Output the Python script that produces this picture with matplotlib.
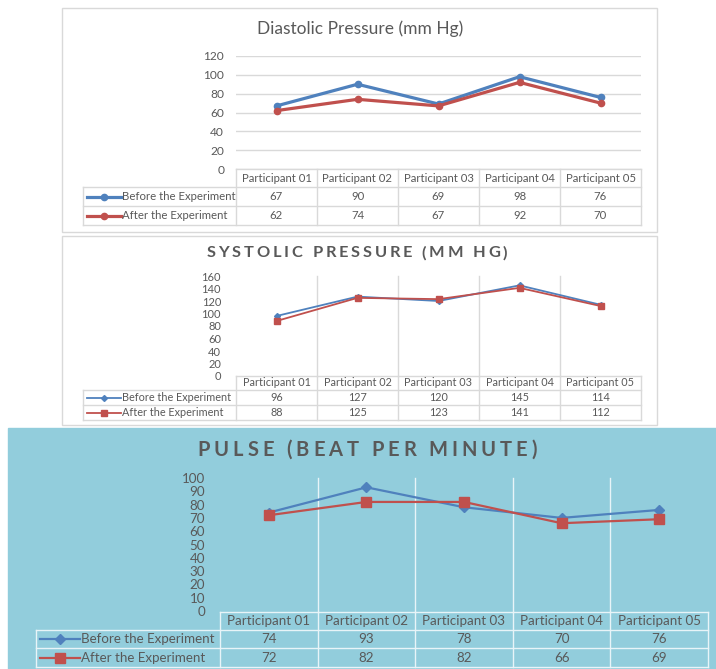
import matplotlib.pyplot as plt
from matplotlib.patches import Rectangle
from matplotlib.lines import Line2D
from matplotlib.font_manager import FontProperties

plt.rcParams['font.family'] = ['Lato', 'DejaVu Sans']

W, H = 716, 669

categories = ["Participant 01", "Participant 02", "Participant 03",
              "Participant 04", "Participant 05"]
series_names = ["Before the Experiment", "After the Experiment"]

dia_before = [67, 90, 69, 98, 76]
dia_after = [62, 74, 67, 92, 70]
sys_before = [96, 127, 120, 145, 114]
sys_after = [88, 125, 123, 141, 112]
pulse_before = [74, 93, 78, 70, 76]
pulse_after = [72, 82, 82, 66, 69]

dia_ticks = [0, 20, 40, 60, 80, 100, 120]
sys_ticks = [0, 20, 40, 60, 80, 100, 120, 140, 160]
pulse_ticks = [0, 10, 20, 30, 40, 50, 60, 70, 80, 90, 100]

BLUE = '#4F81BD'
RED = '#C0504D'
TXT = '#595959'


def frac(x0, y0, x1, y1):
    return [x0 / W, 1 - y1 / H, (x1 - x0) / W, (y1 - y0) / H]


fig = plt.figure(figsize=(W / 100, H / 100), dpi=100)
ov = fig.add_axes([0, 0, 1, 1], zorder=0)
ov.set_xlim(0, W)
ov.set_ylim(H, 0)
ov.axis('off')
renderer = fig.canvas.get_renderer()


def text_w(s, prop):
    # width in pixels, padded with 'x' so trailing spaces count
    w1, _, _ = renderer.get_text_width_height_descent(s + 'x', prop, ismath=False)
    w2, _, _ = renderer.get_text_width_height_descent('x', prop, ismath=False)
    return w1 - w2


def spaced_title(cx, cy, s, prop, spacing):
    total = text_w(s, prop) + spacing * (len(s) - 1)
    x = cx - total / 2
    for i, ch in enumerate(s):
        xi = x + text_w(s[:i], prop) + spacing * i
        ov.text(xi, cy, ch, ha='left', va='center', color=TXT, fontproperties=prop)


def panel(box, bg, border, plot, ticks, tick_fs, before, after,
          styles, table, tab_fs, line_col, hgrid, vgrid):
    bx0, by0, bx1, by1 = box
    ov.add_patch(Rectangle((bx0, by0), bx1 - bx0, by1 - by0, facecolor=bg,
                           edgecolor=border, lw=1))

    px0, py0, px1, py1 = plot
    ax = fig.add_axes(frac(px0, py0, px1, py1), zorder=1)
    ax.set_facecolor('none')
    ax.set_xlim(-0.5, len(categories) - 0.5)
    ax.set_ylim(ticks[0], ticks[-1])
    ax.set_yticks(ticks)
    ax.set_yticklabels([str(t) for t in ticks])
    ax.tick_params(axis='y', length=0, pad=tick_fs['pad'], labelsize=tick_fs['size'],
                   labelcolor=TXT)
    ax.set_xticks([])
    for s in ax.spines.values():
        s.set_visible(False)
    if hgrid:
        ax.yaxis.grid(True, color=line_col, lw=1)
    ax.set_axisbelow(True)
    xs = range(len(categories))
    for vals, st in zip([before, after], styles):
        ax.plot(xs, vals, **st, zorder=3)

    # data table under the plot
    tx0, hy0, hy1, r1, r2 = table
    colw = (px1 - px0) / len(categories)
    cols = [px0 + i * colw for i in range(len(categories) + 1)]
    if vgrid:
        for c in cols[1:-1]:
            ov.plot([c, c], [py0, hy0], color=line_col, lw=1)
    ov.plot([px0, px1], [hy0, hy0], color=line_col, lw=1)
    for yy in [hy1, r1, r2]:
        ov.plot([tx0, px1], [yy, yy], color=line_col, lw=1)
    for c in cols:
        ov.plot([c, c], [hy0, r2], color=line_col, lw=1)
    ov.plot([tx0, tx0], [hy1, r2], color=line_col, lw=1)
    for i, cat in enumerate(categories):
        ov.text((cols[i] + cols[i + 1]) / 2, (hy0 + hy1) / 2, cat, ha='center',
                va='center', color=TXT, fontsize=tab_fs)
    rows = [(hy1, r1), (r1, r2)]
    for (ra, rb), name, vals, st in zip(rows, series_names, [before, after], styles):
        ym = (ra + rb) / 2
        for i, v in enumerate(vals):
            ov.text((cols[i] + cols[i + 1]) / 2, ym, str(v), ha='center',
                    va='center', color=TXT, fontsize=tab_fs)
        kx0 = tx0 + 4
        kx1 = kx0 + (cols[0] - tx0) * 0.22
        ov.add_line(Line2D([kx0, kx1], [ym, ym], color=st['color'], lw=st['lw']))
        ov.add_line(Line2D([(kx0 + kx1) / 2], [ym], marker=st['marker'],
                           markersize=st['markersize'], color=st['color'], lw=0))
        ov.text(kx1 + 1, ym, name, ha='left', va='center', color=TXT, fontsize=tab_fs)
    return ax


# Diastolic
panel(box=(62, 8, 657, 232), bg='white', border='#D9D9D9',
      plot=(236, 56, 641, 169), ticks=dia_ticks,
      tick_fs={'size': 8.6, 'pad': 8.5}, before=dia_before, after=dia_after,
      styles=[dict(color=BLUE, lw=2.3, marker='o', markersize=4.5),
              dict(color=RED, lw=2.3, marker='o', markersize=4.5)],
      table=(83, 169, 187, 206, 225), tab_fs=8.2, line_col='#D9D9D9',
      hgrid=True, vgrid=False)
ov.text(360, 29, 'Diastolic Pressure (mm Hg)', ha='center', va='center',
        color=TXT, fontsize=12.5)

# Systolic
panel(box=(62, 236, 657, 425), bg='white', border='#D9D9D9',
      plot=(236, 276, 641, 376), ticks=sys_ticks,
      tick_fs={'size': 8, 'pad': 10.8}, before=sys_before, after=sys_after,
      styles=[dict(color=BLUE, lw=1.3, marker='D', markersize=3),
              dict(color=RED, lw=1.3, marker='s', markersize=4.5)],
      table=(83, 376, 390, 405, 420), tab_fs=7.8, line_col='#D9D9D9',
      hgrid=False, vgrid=True)
spaced_title(357, 253, 'SYSTOLIC PRESSURE (MM HG)',
             FontProperties(family=['Lato'], weight='bold', size=11.8), 2.8)

# Pulse
panel(box=(8, 428, 716, 669), bg='#92CDDC', border='#92CDDC',
      plot=(220, 478, 708, 611), ticks=pulse_ticks,
      tick_fs={'size': 9.6, 'pad': 10.8}, before=pulse_before, after=pulse_after,
      styles=[dict(color=BLUE, lw=1.6, marker='D', markersize=5),
              dict(color=RED, lw=1.6, marker='s', markersize=6.5)],
      table=(36, 612, 630, 648, 667), tab_fs=9.6, line_col='#E8F4F8',
      hgrid=False, vgrid=True)
spaced_title(367, 450, 'PULSE (BEAT PER MINUTE)',
             FontProperties(family=['Lato'], weight='bold', size=14.5), 3.9)

fig.savefig('out.png', dpi=100)
